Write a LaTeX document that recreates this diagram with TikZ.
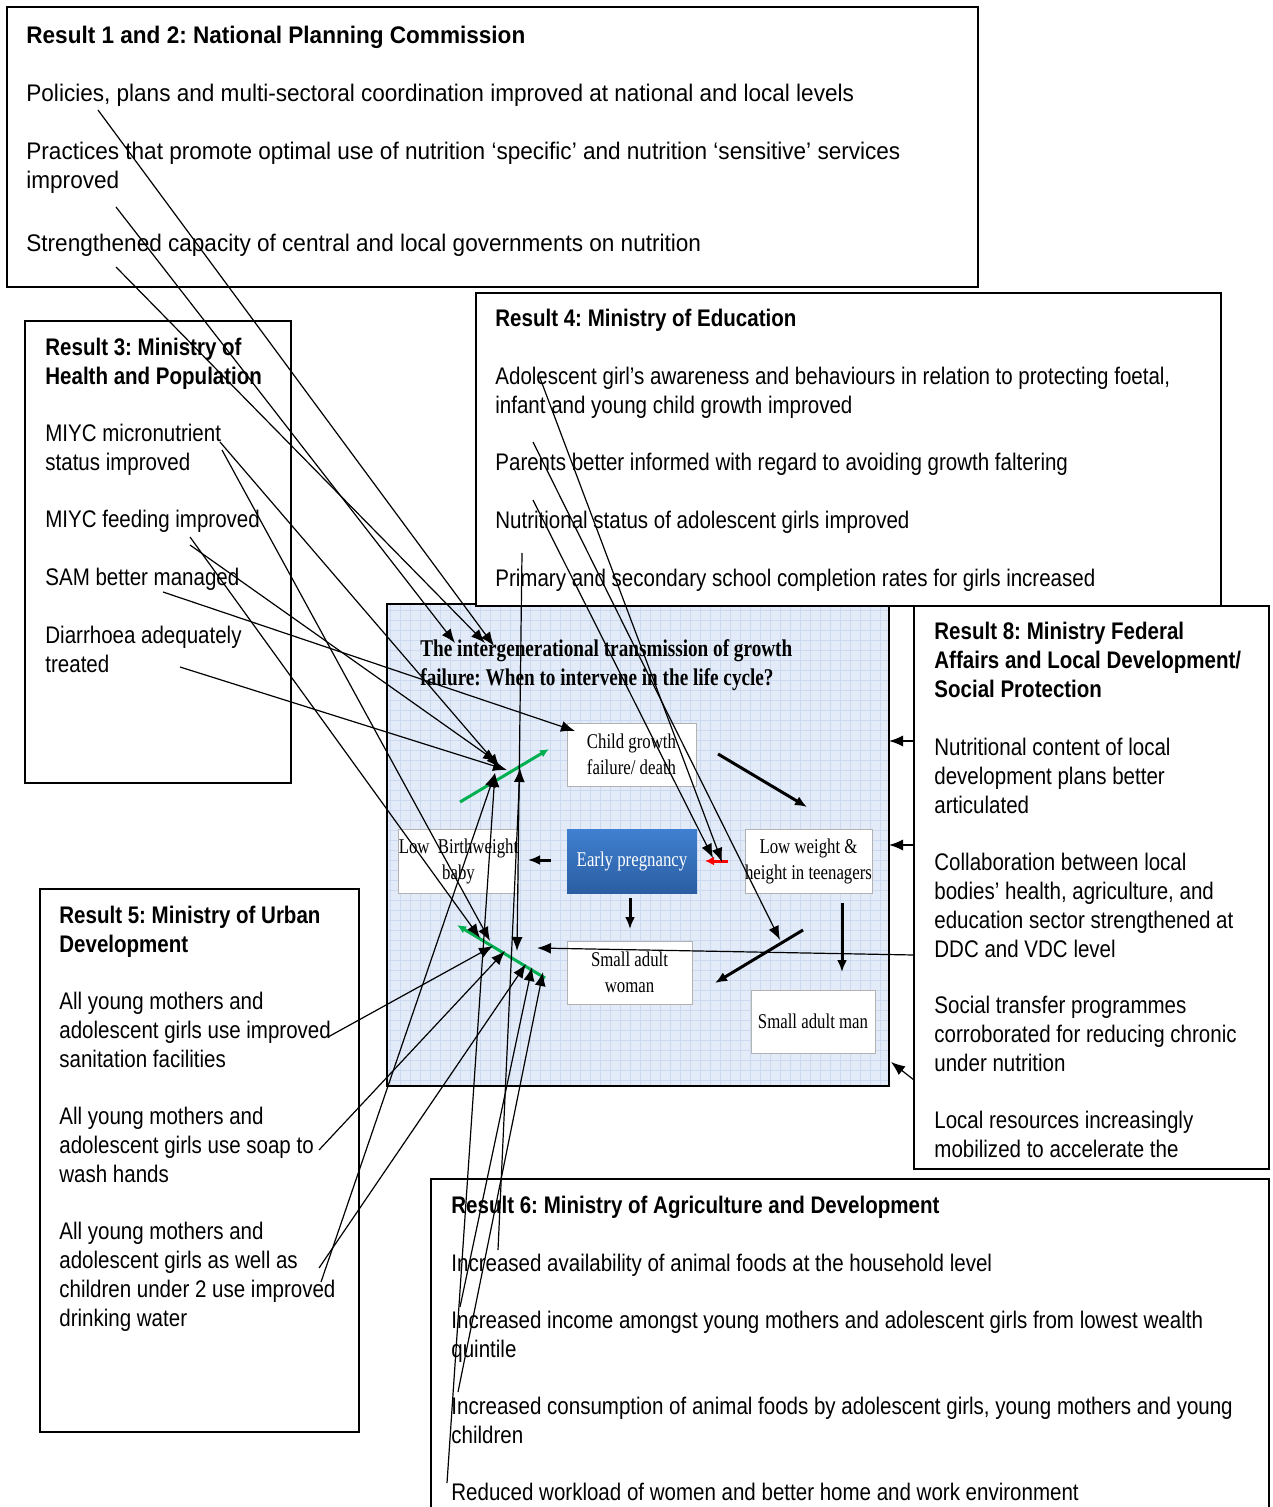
\documentclass[tikz,border=0pt]{standalone}
\usepackage{fontspec}
\setmainfont{Liberation Sans}[FakeStretch=0.855]
\newfontfamily\widefont{Liberation Sans}[FakeStretch=0.94]
\newfontfamily\panelfont{Liberation Serif}[FakeStretch=0.8]
\frenchspacing
\usetikzlibrary{arrows.meta, fit}
\definecolor{panelbg}{RGB}{226,235,247}
\definecolor{panelgrid}{RGB}{203,218,240}
\definecolor{pregtop}{RGB}{64,128,208}
\definecolor{pregbot}{RGB}{42,94,162}
\definecolor{arrowgreen}{RGB}{0,176,80}
\tikzstyle{result} = [draw, line width=0.8pt, fill=white, inner sep=0pt]
\tikzstyle{item} = [anchor=north west, inner sep=0pt, align=left,
    font=\fontsize{12}{14.5}\selectfont]
\tikzstyle{heading} = [item, font=\bfseries\fontsize{12}{14.5}\selectfont]
\tikzstyle{wideitem} = [item, font=\widefont\fontsize{12}{14.5}\selectfont]
\tikzstyle{wideheading} = [item, font=\widefont\bfseries\fontsize{12}{14.5}\selectfont]
\tikzstyle{stage} = [rectangle, draw=gray!60, fill=white, inner sep=0pt, align=center,
    font=\panelfont\fontsize{10.5}{13}\selectfont]
\tikzstyle{line} = [draw, -{Latex[length=7pt,width=5.5pt]}, line width=0.6pt]
\tikzstyle{cycle} = [draw, -{Latex[length=6pt,width=5pt]}, line width=1.5pt]
\tikzstyle{greenarrow} = [draw=arrowgreen, -{Latex[length=4.5pt,width=4pt]}, line width=1.5pt]
\tikzstyle{redarrow} = [draw=red, -{Latex[length=4.5pt,width=4.5pt]}, line width=1.5pt]
\begin{document}
\begin{tikzpicture}[x=0.5pt, y=-0.5pt]
        \useasboundingbox (0,0) rectangle (1272,1507);
        % Life cycle panel
        \fill [panelbg] (387,604) rectangle (889,1086);
        \draw [panelgrid, step=5pt, line width=0.3pt] (387,604) grid (889,1086);
        \node [fit={(387,604) (889,1086)}, draw, line width=0.8pt, inner sep=0pt] (panel) {};
        \node [anchor=north west, inner sep=0pt, align=left,
            font=\panelfont\bfseries\fontsize{12}{14.5}\selectfont] (cycletitle) at (420,639)
            {The intergenerational transmission of growth\\failure: When to intervene in the life cycle?};
        \node [stage, minimum width=64.5pt, minimum height=31.5pt] (child) at (631.5,754.5) {Child growth\\failure/ death};
        \node [stage, minimum width=57.5pt, minimum height=32pt] (lbw) at (458.5,861) {Low~~Birthweight\\baby};
        \node [stage, draw=none, top color=pregtop, bottom color=pregbot, text=white,
            minimum width=65pt, minimum height=32pt] (preg) at (632,861) {Early pregnancy};
        \node [stage, minimum width=62.5pt, minimum height=32pt] (teen) at (808.5,861) {Low weight \&\\height in teenagers};
        \node [stage, minimum width=62.5pt, minimum height=31.5pt] (woman) at (629.5,972.5) {Small adult\\woman};
        \node [stage, minimum width=62pt, minimum height=31.5pt] (man) at (813,1021.5) {Small adult man};
        % Result boxes
        \node [result, fit={(7,7) (978,287)}] (npc) {};
        \node [result, fit={(25,321) (291,783)}] (health) {};
        \node [result, fit={(476,293) (1221,606)}] (edu) {};
        \node [result, fit={(914,606) (1269,1169)}] (local) {};
        \node [result, fit={(40,889) (359,1432)}] (urban) {};
        \node [result, fit={(431,1179) (1269,1530)}] (agri) {};
        % Result 1 and 2
        \node [wideheading] (npc_title) at (26,26) {Result 1 and 2: National Planning Commission};
        \node [wideitem] (npc_pol) at (26,84) {Policies, plans and multi-sectoral coordination improved at national and local levels};
        \node [wideitem] (npc_pra) at (26,142) {Practices that promote optimal use of nutrition ‘specific’ and nutrition ‘sensitive’ services\\improved};
        \node [wideitem] (npc_cap) at (26,234) {Strengthened capacity of central and local governments on nutrition};
        % Result 3
        \node [heading] (health_title) at (45,338) {Result 3: Ministry of\\Health and Population};
        \node [item] (health_mic) at (45,424) {MIYC micronutrient\\status improved};
        \node [item] (health_fed) at (45,510) {MIYC feeding improved};
        \node [item] (health_sam) at (45,568) {SAM better managed};
        \node [item] (health_dia) at (45,626) {Diarrhoea adequately\\treated};
        % Result 4
        \node [heading] (edu_title) at (495,309) {Result 4: Ministry of Education};
        \node [item] (edu_ado) at (495,367) {Adolescent girl’s awareness and behaviours in relation to protecting foetal,\\infant and young child growth improved};
        \node [item] (edu_par) at (495,453) {Parents better informed with regard to avoiding growth faltering};
        \node [item] (edu_nut) at (495,511) {Nutritional status of adolescent girls improved};
        \node [item] (edu_pri) at (495,569) {Primary and secondary school completion rates for girls increased};
        % Result 8
        \node [heading] (local_title) at (934,622) {Result 8: Ministry Federal\\Affairs and Local Development/\\Social Protection};
        \node [item] (local_con) at (934,738) {Nutritional content of local\\development plans better\\articulated};
        \node [item] (local_col) at (934,853) {Collaboration between local\\bodies’ health, agriculture, and\\education sector strengthened at\\DDC and VDC level};
        \node [item] (local_soc) at (934,996) {Social transfer programmes\\corroborated for reducing chronic\\under nutrition};
        \node [item] (local_res) at (934,1111) {Local resources increasingly\\mobilized to accelerate the};
        % Result 5
        \node [heading] (urban_title) at (59,906) {Result 5: Ministry of Urban\\Development};
        \node [item] (urban_san) at (59,992) {All young mothers and\\adolescent girls use improved\\sanitation facilities};
        \node [item] (urban_soap) at (59,1107) {All young mothers and\\adolescent girls use soap to\\wash hands};
        \node [item] (urban_wat) at (59,1222) {All young mothers and\\adolescent girls as well as\\children under 2 use improved\\drinking water};
        % Result 6
        \node [heading] (agri_title) at (451,1196) {Result 6: Ministry of Agriculture and Development};
        \node [item] (agri_ava) at (451,1254) {Increased availability of animal foods at the household level};
        \node [item] (agri_inc) at (451,1311) {Increased income amongst young mothers and adolescent girls from lowest wealth\\quintile};
        \node [item] (agri_con) at (451,1397) {Increased consumption of animal foods by adolescent girls, young mothers and young\\children};
        \node [item] (agri_wor) at (451,1483) {Reduced workload of women and better home and work environment};
        % Arrow ends
        \coordinate (npc_pol_s) at (98,110);
        \coordinate (npc_pra_s) at (116,207);
        \coordinate (npc_cap_s) at (116,267);
        \coordinate (title_a) at (455,643);
        \coordinate (title_b) at (485,643);
        \coordinate (title_c) at (494,646);
        \coordinate (health_mic_s) at (220,442);
        \coordinate (health_mic_t) at (222,450);
        \coordinate (health_fed_s) at (190,545);
        \coordinate (health_fed_t) at (190,537);
        \coordinate (health_sam_s) at (163,592);
        \coordinate (health_dia_s) at (180,667);
        \coordinate (edu_ado_s) at (540,378);
        \coordinate (edu_par_s) at (533,442);
        \coordinate (edu_nut_s) at (533,500);
        \coordinate (edu_pri_s) at (522,553);
        \coordinate (urban_san_s) at (328,1037);
        \coordinate (urban_soap_s) at (319,1150);
        \coordinate (urban_wat_s) at (319,1268);
        \coordinate (urban_wat_t) at (321,1282);
        \coordinate (agri_ava_s) at (498,1250);
        \coordinate (agri_inc_s) at (460,1307);
        \coordinate (agri_con_s) at (458,1392);
        \coordinate (agri_wor_s) at (447,1483);
        \coordinate (local_con_s) at (914,741);
        \coordinate (local_col_s) at (914,845);
        \coordinate (local_soc_s) at (914,955);
        \coordinate (local_res_s) at (914,1080);
        \coordinate (upper_a) at (500,768);
        \coordinate (upper_b) at (497,762);
        \coordinate (upper_c) at (507,770);
        \coordinate (upper_d) at (495,773);
        \coordinate (upper_e) at (520,768);
        \coordinate (lower_a) at (490,941);
        \coordinate (lower_b) at (480,938);
        \coordinate (lower_c) at (493,946);
        \coordinate (lower_d) at (505,951);
        \coordinate (lower_e) at (526,964);
        \coordinate (lower_f) at (517,951);
        \coordinate (lower_g) at (532,967);
        \coordinate (lower_h) at (543,972);
        \coordinate (lower_i) at (537,948);
        \coordinate (child_t) at (575,731);
        \coordinate (teen_a) at (713,858);
        \coordinate (teen_b) at (722,862);
        \coordinate (teen_c) at (780,940);
        \coordinate (panel_a) at (889,741);
        \coordinate (panel_b) at (889,845);
        \coordinate (panel_c) at (891,1062);
        % Life cycle arrows
        \coordinate (cyc1s) at (718,754);  \coordinate (cyc1e) at (807,807);
        \coordinate (cyc2s) at (551,860);  \coordinate (cyc2e) at (528,860);
        \coordinate (cyc3s) at (630,898);  \coordinate (cyc3e) at (630,929);
        \coordinate (cyc4s) at (842,903);  \coordinate (cyc4e) at (842,972);
        \coordinate (cyc5s) at (803,930);  \coordinate (cyc5e) at (715,983);
        \coordinate (reds) at (728,861);   \coordinate (rede) at (705,861);
        \coordinate (grn1s) at (460,802);  \coordinate (grn1e) at (549,749);
        \coordinate (grn2s) at (545,978);  \coordinate (grn2e) at (457,925);
        \path [cycle] (cyc1s) -- (cyc1e);
        \path [cycle] (cyc2s) -- (cyc2e);
        \path [cycle] (cyc3s) -- (cyc3e);
        \path [cycle] (cyc4s) -- (cyc4e);
        \path [cycle] (cyc5s) -- (cyc5e);
        \path [redarrow] (reds) -- (rede);
        \path [greenarrow] (grn1s) -- (grn1e);
        \path [greenarrow] (grn2s) -- (grn2e);
        % Draw edges
        \path [line] (npc_pol_s) -- (title_c);
        \path [line] (npc_pra_s) -- (title_a);
        \path [line] (npc_cap_s) -- (title_b);
        \path [line] (health_mic_s) -- (upper_a);
        \path [line] (health_mic_t) -- (lower_a);
        \path [line] (health_fed_s) -- (upper_b);
        \path [line] (health_fed_t) -- (lower_b);
        \path [line] (health_sam_s) -- (child_t);
        \path [line] (health_dia_s) -- (upper_c);
        \path [line] (edu_ado_s) -- (teen_b);
        \path [line] (edu_par_s) -- (teen_c);
        \path [line] (edu_nut_s) -- (teen_a);
        \path [line] (edu_pri_s) -- (lower_f);
        \path [line] (urban_san_s) -- (lower_c);
        \path [line] (urban_soap_s) -- (lower_d);
        \path [line] (urban_wat_s) -- (lower_e);
        \path [line] (urban_wat_t) -- (upper_d);
        \path [line] (agri_ava_s) -- (upper_e);
        \path [line] (agri_inc_s) -- (lower_g);
        \path [line] (agri_con_s) -- (lower_h);
        \path [line] (agri_wor_s) -- (upper_d);
        \path [line] (local_con_s) -- (panel_a);
        \path [line] (local_col_s) -- (panel_b);
        \path [line] (local_soc_s) -- (lower_i);
        \path [line] (local_res_s) -- (panel_c);
\end{tikzpicture}
\end{document}
